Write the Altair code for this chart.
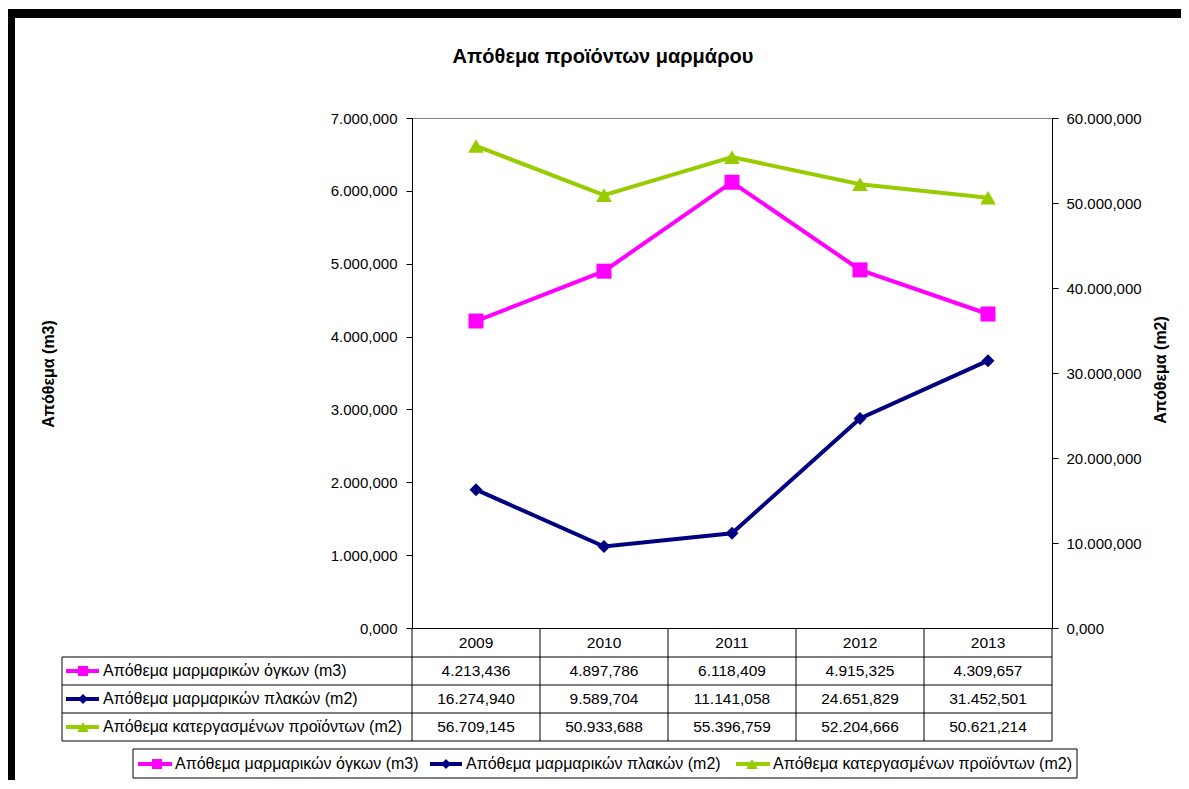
import altair as alt
import pandas as pd

# ---------------- data ----------------
years = ["2009", "2010", "2011", "2012", "2013"]
ogkoi = [4213.436, 4897.786, 6118.409, 4915.325, 4309.657]          # m3 (left axis)
plakes = [16274.940, 9589.704, 11141.058, 24651.829, 31452.501]     # m2 (right axis)
katerg = [56709.145, 50933.688, 55396.759, 52204.666, 50621.214]    # m2 (right axis)
names = [
    "Απόθεμα μαρμαρικών όγκων (m3)",
    "Απόθεμα μαρμαρικών πλακών (m2)",
    "Απόθεμα κατεργασμένων προϊόντων (m2)",
]
left_ticks = [0, 1000, 2000, 3000, 4000, 5000, 6000, 7000]
right_ticks = [0, 10000, 20000, 30000, 40000, 50000, 60000]
title_text = "Απόθεμα προϊόντων μαρμάρου"
left_title = "Απόθεμα (m3)"
right_title = "Απόθεμα (m2)"

# ---------------- styles ----------------
colors = ["#FF00FF", "#000080", "#99CC00"]
shapes = ["square", "diamond", "triangle-up"]
sizes = [225, 170, 250]
key_sizes = [100, 100, 140]
FONT = "Liberation Sans"
FS = 15.5        # numbers
FS_TXT = 16      # Greek labels
W, H = 640, 510


def gr(v):
    s = f"{v:,.3f}"
    return s.replace(",", "#").replace(".", ",").replace("#", ".")


EXPR = "replace(replace(replace(format(datum.value, ',.3f'), ',', '#'), '.', ','), '#', '.')"

xenc = alt.X(
    "year:N",
    sort=years,
    scale=alt.Scale(type="point", domain=years, padding=0.5),
    axis=alt.Axis(labels=False, ticks=False, title=None, domainColor="black", grid=False),
)

left_axis = alt.Axis(
    orient="left", values=left_ticks, labelExpr=EXPR, labelFont=FONT, labelFontSize=15,
    labelColor="black", tickColor="black", tickSize=6, labelPadding=9,
    domainColor="black", title=None, grid=False,
)
right_axis = alt.Axis(
    orient="right", values=right_ticks, labelExpr=EXPR, labelFont=FONT, labelFontSize=15,
    labelColor="black", tickColor="black", tickSize=6, labelPadding=8,
    domainColor="black", title=None, grid=False,
)

dummy = pd.DataFrame({"k": [0]})


def series_layers(i, vals, dom, axis):
    d = pd.DataFrame({"year": years, "value": vals})
    y = alt.Y("value:Q", scale=alt.Scale(domain=dom, nice=False, zero=True), axis=axis)
    line = alt.Chart(d).mark_line(color=colors[i], strokeWidth=4).encode(x=xenc, y=y)
    pts = alt.Chart(d).mark_point(
        shape=shapes[i], filled=True, opacity=1, color=colors[i], size=sizes[i]
    ).encode(x=xenc, y=y)
    return [line, pts]


left = alt.layer(*series_layers(0, ogkoi, [0, 7000], left_axis))
right = alt.layer(
    *series_layers(1, plakes, [0, 60000], right_axis),
    *series_layers(2, katerg, [0, 60000], right_axis),
)


def rule(x1, x2, y1, y2=None, color="black", w=1):
    enc = dict(x=alt.value(x1), x2=alt.value(x2), y=alt.value(y1))
    if y2 is not None:
        enc["y2"] = alt.value(y2)
    return alt.Chart(dummy).mark_rule(color=color, strokeWidth=w).encode(**enc)


def rect(x1, x2, y1, y2, **kw):
    return alt.Chart(dummy).mark_rect(**kw).encode(
        x=alt.value(x1), x2=alt.value(x2), y=alt.value(y1), y2=alt.value(y2)
    )


def text(x, y, s, **kw):
    return alt.Chart(pd.DataFrame({"t": [s]})).mark_text(font=FONT, color="black", **kw).encode(
        x=alt.value(x), y=alt.value(y), text="t:N"
    )


def key(xl, xr, xm, y, i, msize):
    return [
        rule(xl, xr, y, color=colors[i], w=4),
        alt.Chart(dummy).mark_point(
            shape=shapes[i], filled=True, opacity=1, color=colors[i], size=msize
        ).encode(x=alt.value(xm), y=alt.value(y)),
    ]


layers = []

# page frame (black, top and left)
layers.append(rect(-406, 780, -109, -100, color="black"))
layers.append(rect(-406, -397, -109, 700, color="black"))

# titles
layers.append(text(191, -61, title_text, fontSize=20, fontWeight="bold", baseline="middle", align="center"))
layers.append(text(-363, 256, left_title, fontSize=16, fontWeight="bold", baseline="middle", align="center", angle=270))
layers.append(text(749, 252, right_title, fontSize=16, fontWeight="bold", baseline="middle", align="center", angle=270))

# data table grid
for yy in [539, 567, 595, 623]:
    layers.append(rule(-350, W, yy))
layers.append(rule(-350, -350, 539, 623))
step = W / len(years)
for j in range(len(years) + 1):
    layers.append(rule(j * step, j * step, 510, 623))

# header (years)
layers.append(
    alt.Chart(pd.DataFrame({"year": years})).mark_text(
        font=FONT, fontSize=FS, baseline="middle", color="black"
    ).encode(x=xenc, y=alt.value(525), text="year:N")
)

# rows
all_vals = [ogkoi, plakes, katerg]
for i, vals in enumerate(all_vals):
    yc = 553 + 28 * i
    d = pd.DataFrame({"year": years, "label": [gr(v) for v in vals]})
    layers.append(
        alt.Chart(d).mark_text(font=FONT, fontSize=FS, baseline="middle", color="black").encode(
            x=xenc, y=alt.value(yc), text="label:N"
        )
    )
    layers.extend(key(-346, -313, -329, yc, i, key_sizes[i]))
    layers.append(text(-309, yc, names[i], fontSize=FS_TXT, baseline="middle", align="left"))

# legend box
layers.append(rect(-279, 665, 631, 660, fill="white", stroke="black", strokeWidth=1))
leg_y = 646
leg_pos = [(-274, -240, -255, -237), (18, 50, 34, 54), (324, 358, 340, 361)]
for i, (xl, xr, xm, xt) in enumerate(leg_pos):
    layers.extend(key(xl, xr, xm, leg_y, i, key_sizes[i]))
    layers.append(text(xt, leg_y, names[i], fontSize=FS_TXT, baseline="middle", align="left"))

chart = (
    alt.layer(left, right, *layers)
    .resolve_scale(y="independent")
    .properties(
        width=W,
        height=H,
        autosize=alt.AutoSizeParams(type="none"),
        padding={"left": 404, "top": 110, "right": 129, "bottom": 152},
        background="white",
    )
    .configure_view(stroke="#808080", strokeWidth=1)
)

chart.save("out.html", embed_options={"renderer": "svg", "actions": False})
